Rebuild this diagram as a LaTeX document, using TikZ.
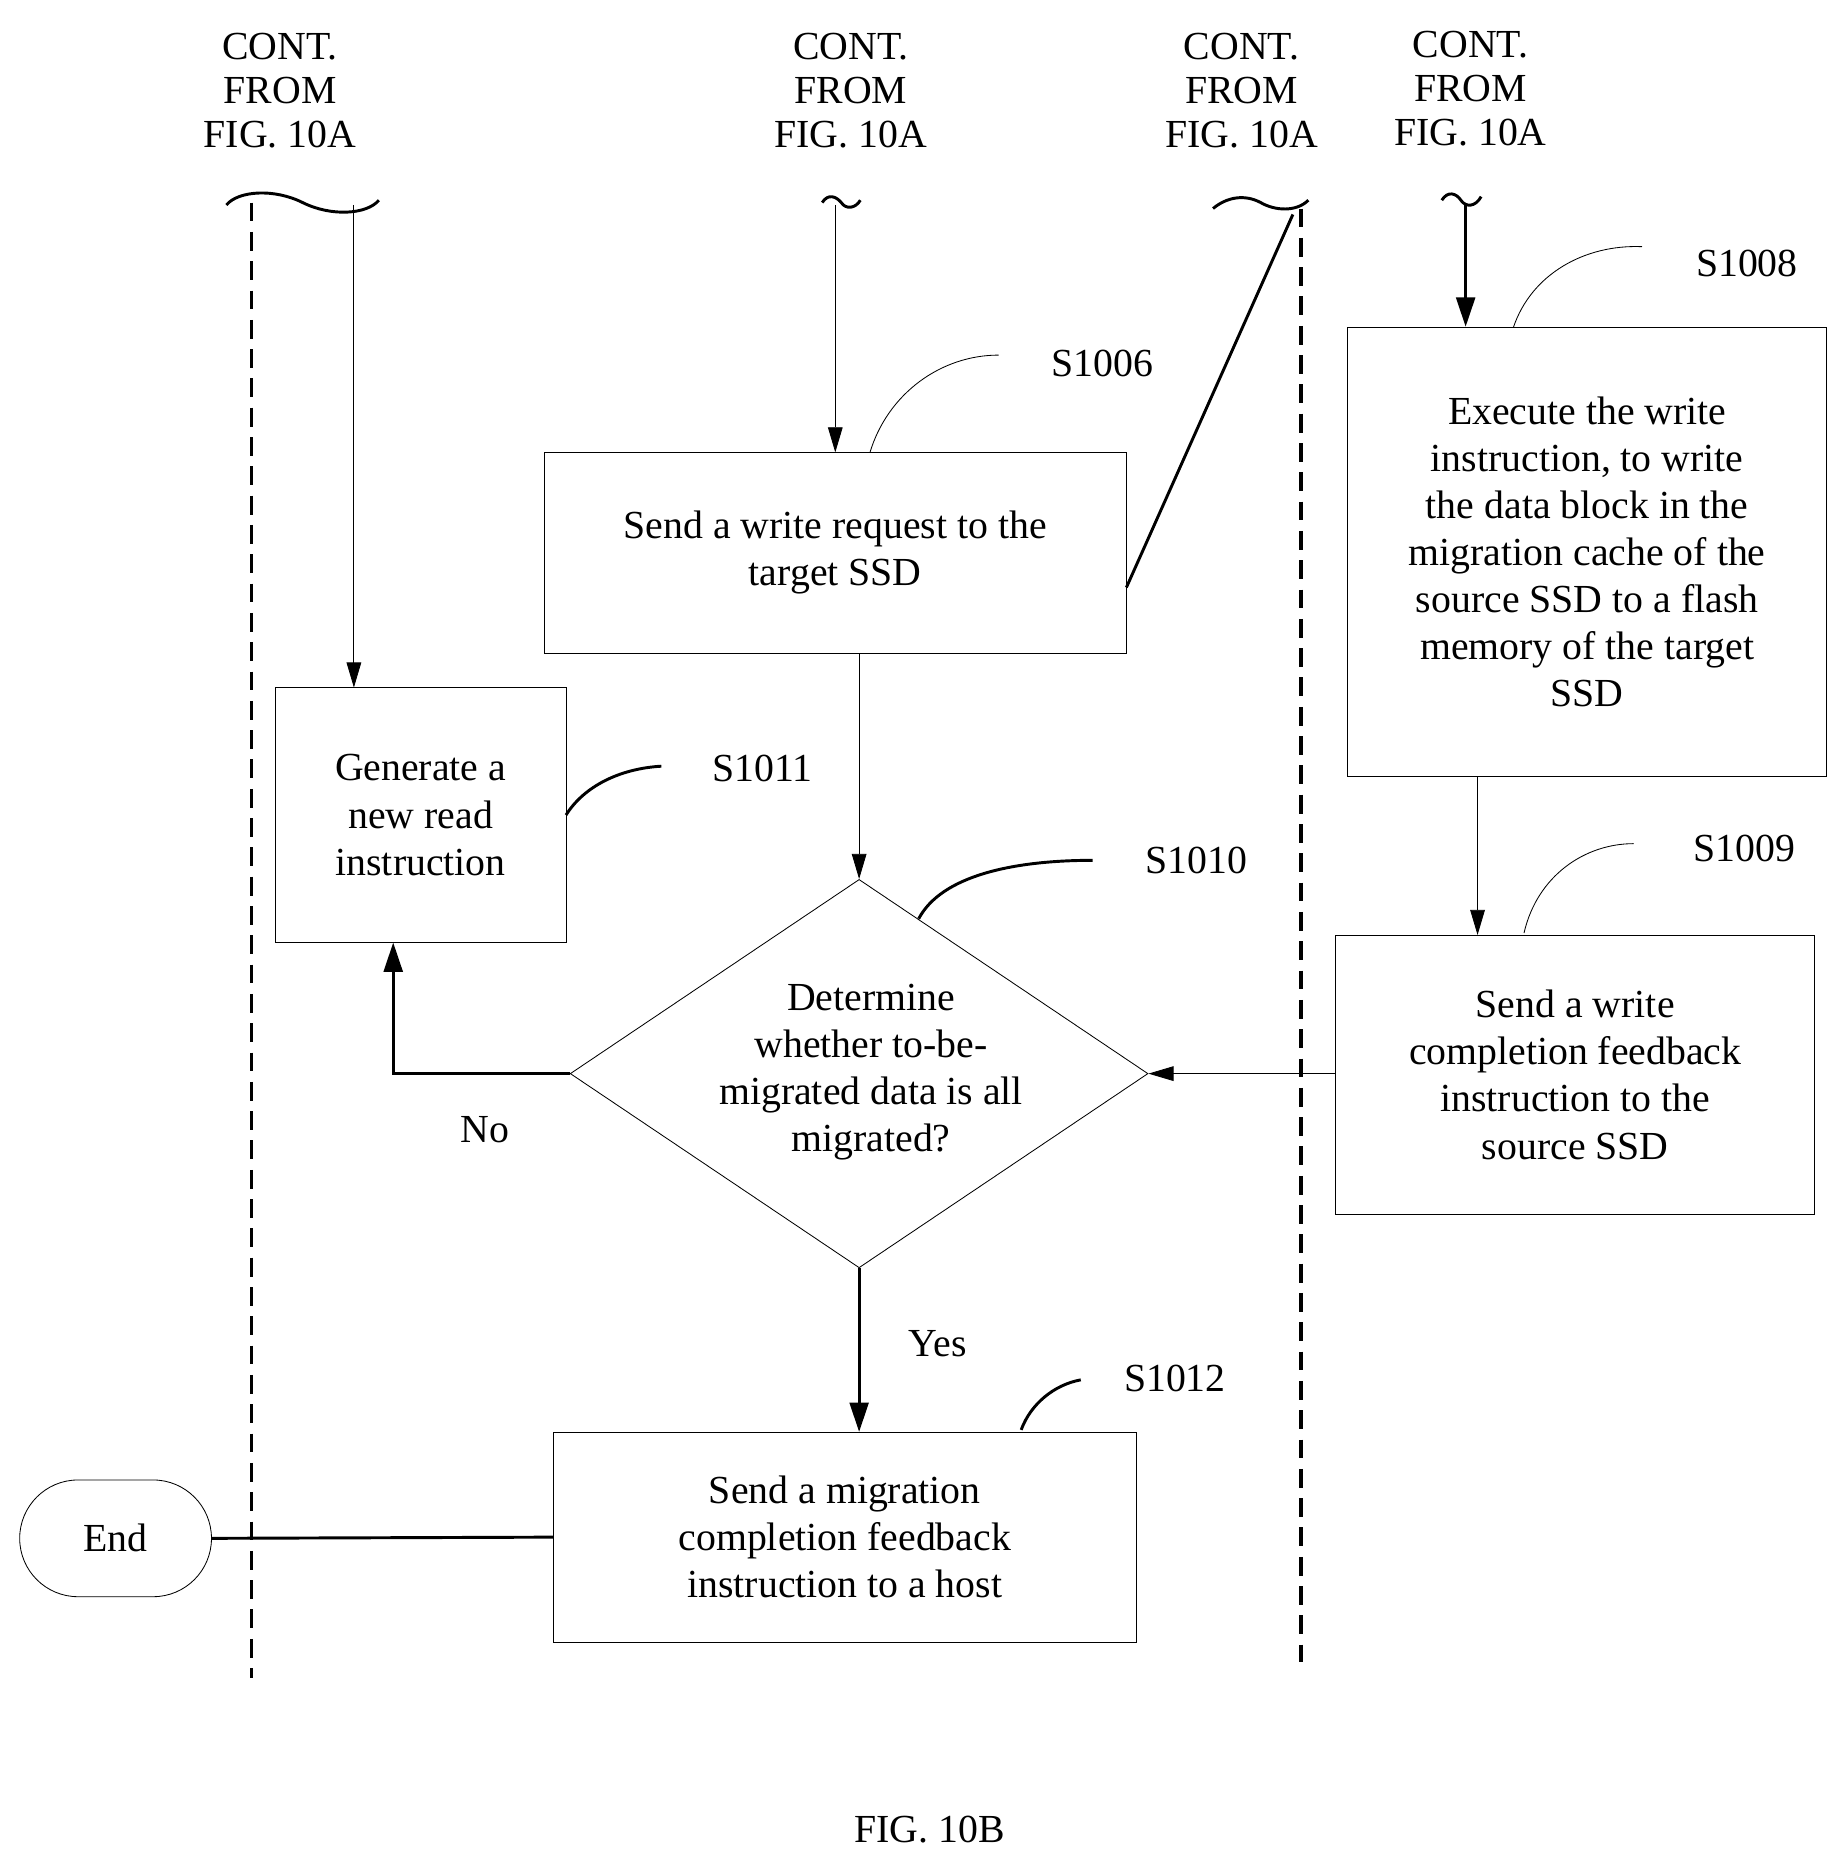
\documentclass[tikz,border=0pt]{standalone}
\usepackage{fontspec}
\setmainfont{Liberation Serif}
\usetikzlibrary{arrows.meta,shapes.geometric}
\begin{document}
\begin{tikzpicture}[x=0.02cm,y=-0.02cm,
  box/.style={draw,thin,align=center,inner sep=0pt,font=\fontsize{19}{22.5}\selectfont},
  lbl/.style={font=\fontsize{19}{22}\selectfont},
  cont/.style={align=center,font=\fontsize{19}{21}\selectfont},
  dsh/.style={line width=1.8pt,dash pattern=on 9pt off 5pt},
  thn/.style={thin,-{Triangle[length=12pt,width=7pt]}},
  thk/.style={line width=1.4pt,-{Triangle[length=14pt,width=9pt]}},
  lead/.style={thin},
  leadk/.style={line width=1.4pt}]
\useasboundingbox (0,0) rectangle (1550,1566);
% dashed lines
\draw[dsh] (211,170) -- (211,1408);
\draw[dsh] (1092,175) -- (1092,1395);
% CONT labels
\node[cont] (c1) at (235,76) {CONT.\\FROM\\FIG. 10A};
\node[cont] (c2) at (714,76) {CONT.\\FROM\\FIG. 10A};
\node[cont] (c3) at (1042,76) {CONT.\\FROM\\FIG. 10A};
\node[cont] (c4) at (1234,74) {CONT.\\FROM\\FIG. 10A};
% boxes
\node[box,minimum width=488\pgflinewidth] (s1006) at (701,464) [minimum width=9.76cm,minimum height=3.36cm] {Send a write request to the\\target SSD};
\node[box,minimum width=4.88cm,minimum height=4.28cm] (s1011) at (353,684) {Generate a\\new read\\instruction};
\node[draw,thin,diamond,minimum width=9.7cm,minimum height=6.52cm,inner sep=0pt] (s1010) at (721,901) {};
\node[align=center,font=\fontsize{19}{22.5}\selectfont] (t1010) at (731,900) {Determine\\whether to-be-\\migrated data is all\\migrated?};
\node[box,minimum width=8.04cm,minimum height=7.54cm] (s1008) at (1332,463) {Execute the write\\instruction, to write\\the data block in the\\migration cache of the\\source SSD to a flash\\memory of the target\\SSD};
\node[box,minimum width=8.04cm,minimum height=4.68cm] (s1009) at (1322,902) {Send a write\\completion feedback\\instruction to the\\source SSD};
\node[box,minimum width=9.78cm,minimum height=3.52cm] (s1012) at (709,1290) {Send a migration\\completion feedback\\instruction to a host};
\node[draw,thin,rounded corners=0.98cm,minimum width=3.22cm,minimum height=1.96cm,font=\fontsize{19}{22}\selectfont] (end) at (97,1291) {End};
% tilde starts
\coordinate (w1a) at (190,172);
\coordinate (w1b) at (318,168);
\draw[line width=1.4pt] (w1a) .. controls (200,160) and (230,158) .. (254,170) .. controls (278,182) and (308,180) .. (w1b);
\draw[line width=1.4pt] (690,170) .. controls (695,162) and (702,165) .. (706,170) .. controls (710,176) and (718,175) .. (722,168);
\draw[line width=1.4pt] (1018,175) .. controls (1030,165) and (1045,163) .. (1058,170) .. controls (1070,177) and (1088,178) .. (1098,168);
\draw[line width=1.4pt] (1210,168) .. controls (1215,160) and (1222,162) .. (1226,168) .. controls (1230,174) and (1238,174) .. (1243,165);
\coordinate (a1) at (297,172);
\coordinate (a2) at (701,172);
\coordinate (a3) at (1085,180);
\coordinate (a4) at (1230,172);
\draw[thn] (a1) -- (297,577);
\draw[thn] (a2) -- (s1006.north -| a2);
\draw[line width=1.4pt] (a3) -- (s1006.east |- 0,493);
\draw[thk] (a4) -- (s1008.north -| a4);
% flow
\draw[thn] (s1006.south -| s1010.north) -- (s1010.north);
\draw[thn] (s1008.south -| 1240,0) -- (s1009.north -| 1240,0);
\draw[thn] (s1009.west |- s1010.east) -- (s1010.east);
\draw[thk] (s1010.west) -| (330,791);
\draw[thk] (s1010.south) -- (s1012.north -| s1010.south);
\draw[line width=1.4pt] (s1012.west) -- (end.east);
\node[lbl] (no) at (407,948) {No};
\node[lbl] (yes) at (787,1128) {Yes};
% step labels
\node[lbl] (l1006) at (925,305) {S1006};
\draw[lead] (730,380) .. controls (745,330) and (790,298) .. (838,298);
\node[lbl] (l1011) at (640,645) {S1011};
\draw[leadk] (475,684) .. controls (490,660) and (520,645) .. (555,643);
\node[lbl] (l1010) at (1004,722) {S1010};
\draw[leadk] (771,771) .. controls (790,735) and (850,722) .. (917,722);
\node[lbl] (l1008) at (1466,221) {S1008};
\draw[lead] (1270,275) .. controls (1285,230) and (1330,205) .. (1378,207);
\node[lbl] (l1009) at (1464,712) {S1009};
\draw[lead] (1279,783) .. controls (1290,735) and (1330,708) .. (1371,708);
\node[lbl] (l1012) at (986,1157) {S1012};
\draw[leadk] (857,1200) .. controls (865,1178) and (885,1162) .. (907,1158);
\node[lbl] (fig) at (780,1535) {FIG. 10B};
\end{tikzpicture}
\end{document}
